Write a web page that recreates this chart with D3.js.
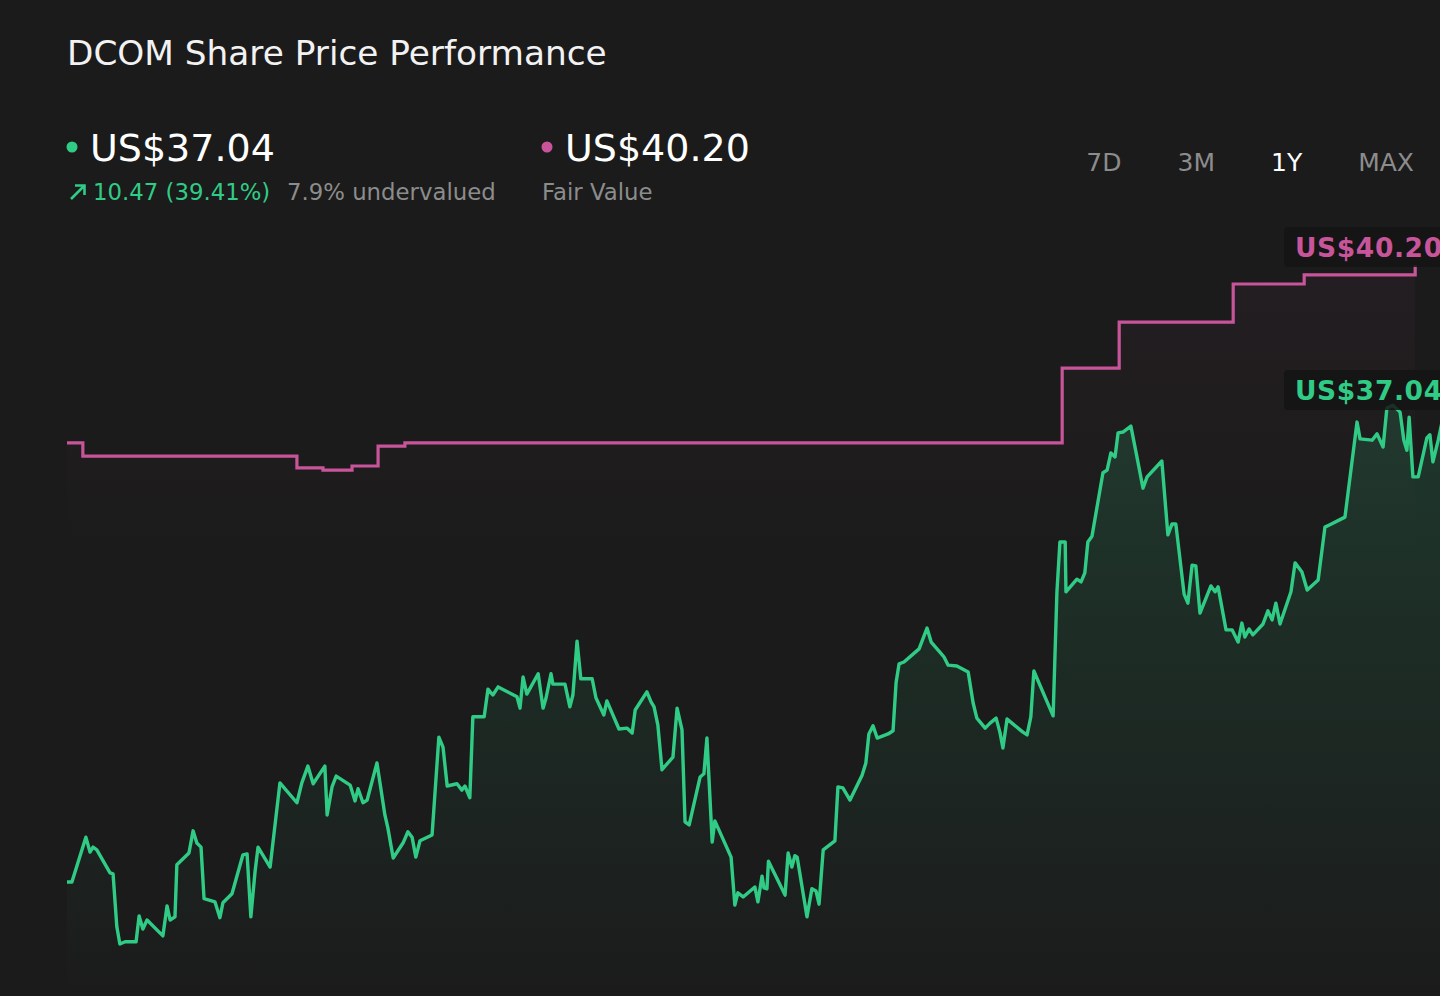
<!DOCTYPE html>
<html>
<head>
<meta charset="utf-8">
<script src="https://cdn.jsdelivr.net/npm/d3@7"></script>
<style>
  html, body { margin: 0; padding: 0; background: #1b1b1b; overflow: hidden; }
  svg { display: block; font-family: "DejaVu Sans", sans-serif; }
</style>
</head>
<body>
<svg id="chart"></svg>
<script>
// ---- data ----
// days since the start of the 1Y window
var priceDays = [0, 1.3, 5.0, 6.1, 6.9, 7.9, 11.4, 12.2, 13.2, 14.0, 15.4, 18.3, 19.1, 20.1, 21.2, 25.4, 26.5, 27.3, 28.6, 29.1,
  32.3, 33.4, 34.4, 35.5, 36.3, 39.2, 40.5, 41.3, 43.7, 46.6, 47.7, 48.7, 49.8, 50.6, 53.8, 56.4, 60.9, 62.2, 63.8, 65.2,
  68.3, 68.9, 70.2, 71.3, 75.0, 76.3, 77.1, 78.4, 79.5, 82.1, 84.2, 85.0, 86.4, 89.0, 90.3, 91.4, 92.4, 93.5, 96.7, 98.5,
  99.6, 100.7, 103.3, 104.6, 105.4, 106.7, 107.5, 110.5, 111.5, 112.8, 114.2, 119.2, 120.0, 120.8, 121.8, 124.8, 126.1, 126.9, 128.2, 128.7,
  131.9, 133.2, 134.0, 135.1, 136.1, 139.1, 140.1, 142.2, 143.0, 146.2, 148.3, 149.7, 150.5, 153.6, 154.7, 155.5, 156.5, 157.6, 160.5, 161.6,
  162.9, 163.7, 164.8, 167.7, 168.7, 169.5, 170.9, 171.6, 175.9, 176.9, 177.7, 179.1, 182.2, 183.0, 184.1, 184.6, 185.4, 185.8, 190.2, 191.0,
  192.0, 192.8, 193.4, 196.0, 197.3, 198.4, 199.2, 200.3, 203.4, 204.2, 205.5, 207.4, 210.6, 211.6, 212.4, 213.5, 214.6, 217.5, 218.8, 219.6,
  220.4, 221.7, 225.7, 227.8, 228.9, 231.2, 232.3, 233.4, 235.7, 238.7, 240.0, 241.0, 243.2, 244.5, 246.1, 247.1, 247.9, 249.0, 250.3, 253.2,
  254.3, 255.3, 256.1, 261.2, 262.2, 263.0, 264.4, 264.6, 267.5, 268.6, 269.6, 270.4, 271.5, 274.4, 275.5, 276.5, 277.6, 278.4, 279.7, 281.8,
  283.4, 285.0, 286.1, 290.0, 291.6, 292.7, 293.7, 295.9, 296.9, 298.0, 299.0, 300.1, 303.0, 304.1, 304.9, 307.0, 308.6, 310.2, 311.2, 312.0,
  313.1, 314.1, 316.8, 318.1, 319.2, 320.2, 321.3, 324.2, 325.3, 327.1, 328.5, 331.4, 333.2, 334.5, 338.5, 341.7, 342.5, 345.7, 347.0, 348.6,
  349.6, 351.2, 353.1, 354.1, 354.9, 355.5, 356.5, 357.9, 360.2, 361.0, 361.8, 363.2, 365.0];

// share price, US$
var priceValues = [26.57, 26.57, 27.56, 27.23, 27.34, 27.28, 26.77, 26.75, 25.58, 25.20, 25.25, 25.25, 25.82, 25.53, 25.73, 25.38, 26.04, 25.73, 25.80, 26.95,
  27.21, 27.70, 27.43, 27.34, 26.20, 26.13, 25.78, 26.11, 26.31, 27.17, 27.19, 25.80, 26.79, 27.34, 26.90, 28.76, 28.32, 28.76, 29.13, 28.74,
  29.13, 28.05, 28.67, 28.91, 28.71, 28.36, 28.63, 28.32, 28.38, 29.20, 28.05, 27.76, 27.10, 27.43, 27.68, 27.56, 27.12, 27.48, 27.61, 29.77,
  29.55, 28.69, 28.74, 28.60, 28.69, 28.43, 30.22, 30.22, 30.83, 30.70, 30.88, 30.66, 30.41, 31.10, 30.72, 31.17, 30.41, 30.64, 31.17, 30.94,
  30.94, 30.44, 30.70, 31.89, 31.06, 31.06, 30.64, 30.26, 30.57, 29.95, 29.97, 29.86, 30.37, 30.77, 30.55, 30.44, 30.04, 29.05, 29.33, 30.41,
  29.93, 27.90, 27.83, 28.89, 28.96, 29.75, 27.45, 27.92, 27.12, 26.06, 26.33, 26.24, 26.46, 26.13, 26.70, 26.44, 26.42, 27.03, 26.28, 27.21,
  26.90, 27.15, 27.12, 25.80, 26.42, 26.37, 26.08, 27.28, 27.48, 28.67, 28.65, 28.38, 28.93, 29.20, 29.84, 30.02, 29.75, 29.84, 29.91, 30.97,
  31.39, 31.43, 31.72, 32.18, 31.87, 31.65, 31.54, 31.36, 31.34, 31.21, 30.53, 30.19, 29.97, 30.08, 30.19, 29.88, 29.53, 30.17, 30.08, 29.88,
  29.82, 30.22, 31.23, 30.24, 32.96, 34.08, 34.08, 32.98, 33.26, 33.20, 33.40, 34.08, 34.21, 35.61, 35.67, 36.05, 35.96, 36.49, 36.51, 36.64,
  35.96, 35.27, 35.52, 35.87, 34.24, 34.48, 34.48, 32.93, 32.73, 33.57, 33.55, 32.51, 33.11, 32.98, 33.09, 32.14, 32.14, 31.87, 32.29, 31.98,
  32.16, 32.03, 32.27, 32.56, 32.36, 32.73, 32.27, 32.98, 33.62, 33.42, 33.02, 33.24, 34.41, 34.46, 34.63, 36.73, 36.36, 36.33, 36.47, 36.18,
  37.04, 37.10, 36.95, 36.33, 36.11, 36.84, 35.52, 35.52, 36.38, 36.45, 35.85, 36.33, 37.04];

// fair value estimate (step line)
var fairDays = [0, 4.2, 60.9, 67.8, 75.5, 82.4, 89.5, 263.6, 278.7, 308.9, 327.7, 357.1];
var fairValues = [36.27, 35.98, 35.72, 35.67, 35.76, 36.20, 36.27, 37.92, 38.94, 39.78, 39.98, 40.20];

var periods = ["7D", "3M", "1Y", "MAX"];
var activePeriod = "1Y";

var title = "DCOM Share Price Performance";
var lastPrice = 37.04;
var fairValue = 40.20;
var change = 10.47;
var changePct = 39.41;
var undervalued = 7.9;

// ---- setup ----
var width = 1440;
var height = 996;
var green = "#30cc86";
var pink = "#c8559a";

var svg = d3.select("#chart")
  .attr("width", width)
  .attr("height", height);

svg.append("rect").attr("width", width).attr("height", height).attr("fill", "#1b1b1b");

var defs = svg.append("defs");

var gGreen = defs.append("linearGradient")
  .attr("id", "greenFill").attr("gradientUnits", "userSpaceOnUse")
  .attr("x1", 0).attr("y1", 265).attr("x2", 0).attr("y2", height);
gGreen.append("stop").attr("offset", "0%").attr("stop-color", green).attr("stop-opacity", 0.2);
gGreen.append("stop").attr("offset", "100%").attr("stop-color", green).attr("stop-opacity", 0.0);

var gPink = defs.append("linearGradient")
  .attr("id", "pinkFill").attr("gradientUnits", "userSpaceOnUse")
  .attr("x1", 0).attr("y1", 265).attr("x2", 0).attr("y2", 560);
gPink.append("stop").attr("offset", "0%").attr("stop-color", pink).attr("stop-opacity", 0.05);
gPink.append("stop").attr("offset", "100%").attr("stop-color", pink).attr("stop-opacity", 0.0);

var price = priceDays.map(function (d, i) { return { day: d, value: priceValues[i] }; });
var fair = fairDays.map(function (d, i) { return { day: d, value: fairValues[i] }; });

// scales
var x = d3.scaleLinear()
  .domain([0, 365])
  .range([67, 1445]);

var allValues = priceValues.concat(fairValues);
var y = d3.scaleLinear()
  .domain([d3.min(allValues), d3.max(allValues)])
  .range([944, 265]);

// fair value area + line
svg.append("path")
  .datum(fair)
  .attr("fill", "url(#pinkFill)")
  .attr("d", d3.area().curve(d3.curveStepAfter)
    .x(function (d) { return x(d.day); })
    .y0(height)
    .y1(function (d) { return y(d.value); }));

// price area
svg.append("path")
  .datum(price)
  .attr("fill", "url(#greenFill)")
  .attr("d", d3.area()
    .x(function (d) { return x(d.day); })
    .y0(height)
    .y1(function (d) { return y(d.value); }));

svg.append("path")
  .datum(fair)
  .attr("fill", "none")
  .attr("stroke", pink)
  .attr("stroke-width", 3.2)
  .attr("d", d3.line().curve(d3.curveStepAfter)
    .x(function (d) { return x(d.day); })
    .y(function (d) { return y(d.value); }));

svg.append("path")
  .datum(price)
  .attr("fill", "none")
  .attr("stroke", green)
  .attr("stroke-width", 3.4)
  .attr("stroke-linejoin", "round")
  .attr("d", d3.line()
    .x(function (d) { return x(d.day); })
    .y(function (d) { return y(d.value); }));

// end labels on the right
function endLabel(val, col) {
  var cy = y(val) - 18;
  svg.append("rect")
    .attr("x", 1284).attr("y", cy - 20)
    .attr("width", 180).attr("height", 40)
    .attr("rx", 4)
    .attr("fill", "#141414").attr("fill-opacity", 0.85);
  svg.append("text")
    .attr("x", 1295).attr("y", cy + 9.5)
    .attr("fill", col)
    .attr("font-size", 26.5)
    .attr("font-weight", "bold")
    .attr("letter-spacing", 0.6)
    .text("US$" + val.toFixed(2));
}
endLabel(fairValue, pink);
endLabel(lastPrice, green);

// title
svg.append("text")
  .attr("x", 67).attr("y", 65)
  .attr("fill", "#f2f2f2")
  .attr("font-size", 34.3)
  .text(title);

// header values
svg.append("circle").attr("cx", 72).attr("cy", 147).attr("r", 5.5).attr("fill", green);
svg.append("text")
  .attr("x", 90).attr("y", 161)
  .attr("fill", "#ffffff")
  .attr("font-size", 38)
  .text("US$" + lastPrice.toFixed(2));

svg.append("circle").attr("cx", 547).attr("cy", 147).attr("r", 5.5).attr("fill", pink);
svg.append("text")
  .attr("x", 565).attr("y", 161)
  .attr("fill", "#ffffff")
  .attr("font-size", 38)
  .text("US$" + fairValue.toFixed(2));

// arrow up-right
svg.append("path")
  .attr("d", "M71,199 L84,186 M75,185.5 L84.5,185.5 L84.5,195")
  .attr("fill", "none")
  .attr("stroke", green)
  .attr("stroke-width", 2.6);

svg.append("text")
  .attr("x", 93).attr("y", 200)
  .attr("fill", green)
  .attr("font-size", 22.8)
  .text(change.toFixed(2) + " (" + changePct.toFixed(2) + "%)");

svg.append("text")
  .attr("x", 287).attr("y", 200)
  .attr("fill", "#8c8c8c")
  .attr("font-size", 22.8)
  .text(undervalued.toFixed(1) + "% undervalued");

svg.append("text")
  .attr("x", 542).attr("y", 200)
  .attr("fill", "#8c8c8c")
  .attr("font-size", 22.8)
  .text("Fair Value");

// period selector: right aligned, constant gap between words
var periodG = svg.append("g");
var pTexts = periodG.selectAll("text")
  .data(periods)
  .join("text")
  .attr("y", 171)
  .attr("font-size", 25)
  .attr("fill", function (d) { return d === activePeriod ? "#ffffff" : "#8c8c8c"; })
  .text(function (d) { return d; });

var gap = 56;
var cursor = 1414;
var nodes = pTexts.nodes();
for (var i = nodes.length - 1; i >= 0; i--) {
  var w = nodes[i].getComputedTextLength();
  cursor -= w;
  d3.select(nodes[i]).attr("x", cursor);
  cursor -= gap;
}
</script>
</body>
</html>
